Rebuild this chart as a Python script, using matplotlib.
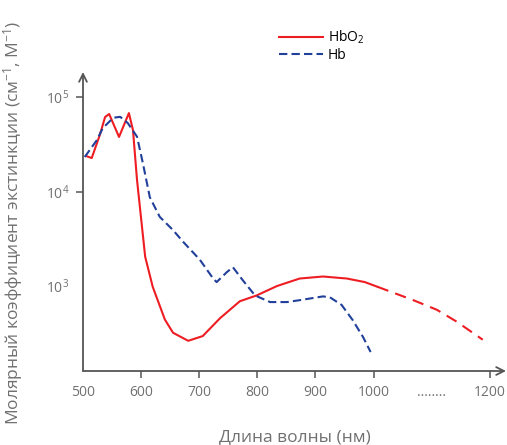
import matplotlib
matplotlib.use('Agg')
import matplotlib.pyplot as plt

plt.rcParams['font.family'] = ['Open Sans', 'DejaVu Sans']
plt.rcParams['mathtext.fontset'] = 'custom'
plt.rcParams['mathtext.rm'] = 'Open Sans'
plt.rcParams['mathtext.it'] = 'Open Sans'

# HbO2 - solid part
hbo2_nm = [505, 515, 529, 538, 545, 562, 579, 586, 593, 607, 620, 641, 655, 681, 706,
           736, 770, 799, 834, 873, 913, 954, 985, 1007]
hbo2_val = [23800, 22600, 39800, 61400, 66100, 37800, 67600, 44700, 13200, 2040, 980, 440,
            320, 263, 295, 457, 690, 795, 1000, 1200, 1260, 1200, 1100, 980]
# HbO2 - dashed continuation
hbo2_ext_nm = [1007, 1068, 1109, 1143, 1188]
hbo2_ext_val = [980, 710, 560, 420, 270]

# Hb
hb_nm = [503, 524, 534, 552, 564, 577, 593, 603, 615, 632, 655, 672, 701, 724, 730, 748,
         758, 775, 796, 822, 851, 873, 913, 925, 945, 964, 982, 995]
hb_val = [23200, 35100, 46800, 60300, 61700, 53100, 38000, 20000, 8700, 5400, 3900, 2950,
          1900, 1200, 1100, 1410, 1580, 1150, 795, 676, 676, 708, 776, 759, 631, 437, 288, 200]

xticks = [500, 600, 700, 800, 900, 1000, 1100, 1200]
xlabels = ['500', '600', '700', '800', '900', '1000', '........', '1200']
yticks = [1e3, 1e4, 1e5]
ylabels = ['$10^3$', '$10^4$', '$10^5$']

red = '#ee1d23'
blue = '#21409a'
gray = '#707070'
axcol = '#555555'

fig = plt.figure(figsize=(5.07, 4.45), dpi=100)
ax = fig.add_axes([83 / 507, 1 - 371 / 445, 423 / 507, 299 / 445])

ax.plot(hbo2_nm, hbo2_val, color=red, lw=1.5, label='HbO$_2$')
ax.plot(hbo2_ext_nm, hbo2_ext_val, color=red, lw=1.5, dashes=(5.5, 3.5))
ax.plot(hb_nm, hb_val, color=blue, lw=1.5, dashes=(4, 2), label='Hb')

ax.set_yscale('log')
ax.set_xlim(500, 1228)
ax.set_ylim(126, 184000)

for s in ax.spines.values():
    s.set_visible(False)
ax.annotate('', xy=(1, 0), xytext=(0, 0), xycoords='axes fraction',
            arrowprops=dict(arrowstyle='->', color=axcol, lw=1.3, mutation_scale=14, shrinkA=0, shrinkB=0))
ax.annotate('', xy=(0, 1), xytext=(0, 0), xycoords='axes fraction',
            arrowprops=dict(arrowstyle='->', color=axcol, lw=1.3, mutation_scale=14, shrinkA=0, shrinkB=0))

ax.set_xticks(xticks)
ax.set_xticklabels(xlabels)
ax.set_yticks(yticks)
ax.set_yticklabels(ylabels)
ax.yaxis.set_minor_locator(matplotlib.ticker.NullLocator())
ax.tick_params(axis='both', colors=axcol, labelcolor=gray, labelsize=10, length=5, width=1.1, pad=5)
xt = ax.xaxis.get_major_ticks()
xt[0].tick1line.set_visible(False)
xt[6].tick1line.set_visible(False)
ax.yaxis.get_major_ticks()[0].tick1line.set_visible(False)

fig.text(295 / 507, 1 - 437 / 445, 'Длина волны (нм)', color=gray, fontsize=12.5,
         ha='center', va='center')
fig.text(0.026, 0.5, 'Молярный коэффициент экстинкции (см$^{-1}$, М$^{-1}$)', rotation=90,
         color=gray, fontsize=12.5, ha='center', va='center')

fig.legend(loc='upper left', bbox_to_anchor=(272 / 507, 1 - 22 / 445), frameon=False,
           fontsize=10, handlelength=3.2, handletextpad=0.3, labelspacing=0.1, borderpad=0)

fig.savefig('out.png', dpi=100)
